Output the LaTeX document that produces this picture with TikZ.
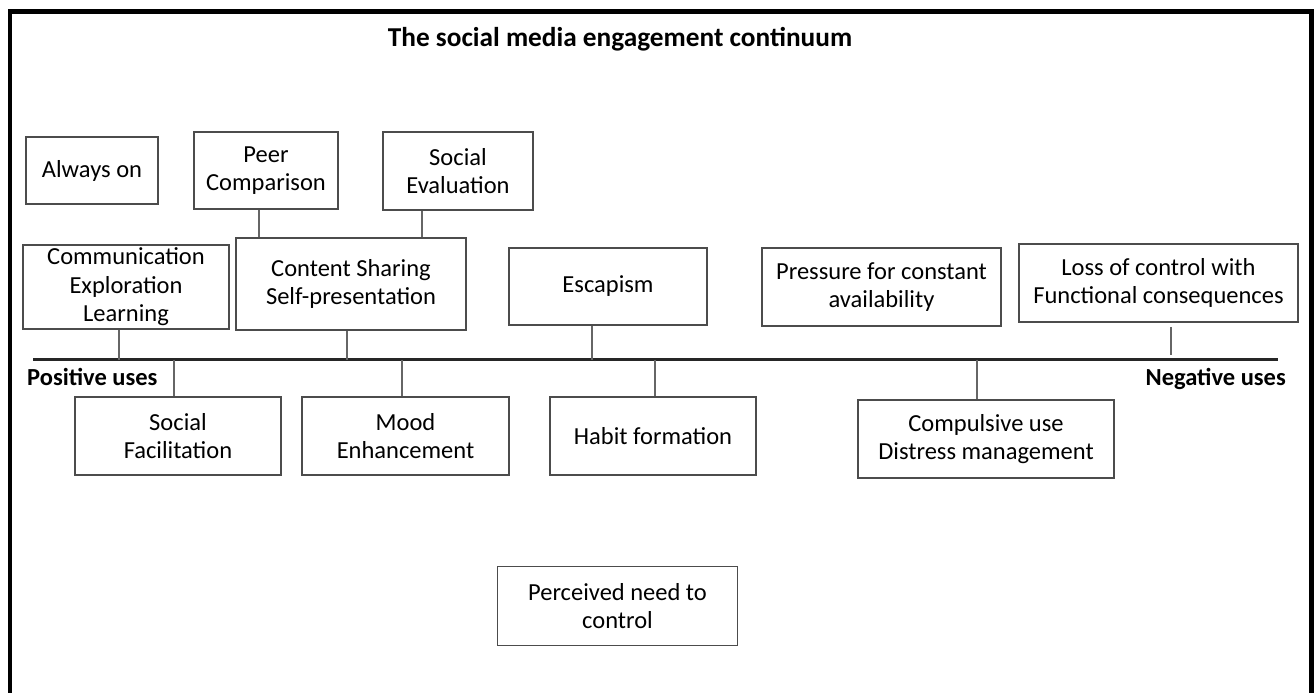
\documentclass[tikz,border=0pt]{standalone}
\usepackage{fontspec}
\setmainfont{Carlito}
\tikzset{
  usebox/.style={draw=black!70, line width=1.8pt, align=center, inner sep=0pt,
    font=\fontsize{24.5}{28.5}\selectfont},
  sz/.style 2 args={minimum width=#1pt, minimum height=#2pt},
  link/.style={draw=black!60, line width=1.5pt},
  scaleline/.style={draw=black!85, line width=2.2pt},
  uselabel/.style={font=\bfseries\fontsize{24.5}{28.5}\selectfont, inner sep=0pt}
}

\begin{document}
\begin{tikzpicture}[x=1pt, y=-1pt]
    \useasboundingbox (0,0) rectangle (1314,693);
    \draw[line width=4.5pt] (10,700) -- (10,11.5) -- (1311.5,11.5) -- (1311.5,700);
    \node[font=\bfseries\fontsize{27.3}{30}\selectfont, anchor=base, inner sep=0pt] (title) at (620,47)
      {The social media engagement continuum};

    % upper row
    \node[usebox, sz={132}{67}] (alwayson)   at (92,170.5)   {Always on};
    \node[usebox, sz={144}{77}] (peer)       at (266,170.5)  {Peer\\Comparison};
    \node[usebox, sz={150}{78}] (evaluation) at (458,171)    {Social\\Evaluation};
    \node[usebox, sz={206}{84}] (comm)       at (126,287)    {Communication\\Exploration\\Learning};
    \node[usebox, sz={230}{92}] (content)    at (351,284)    {Content Sharing\\Self-presentation};
    \node[usebox, sz={198}{77}] (escapism)   at (608,286.5)  {Escapism};
    \node[usebox, sz={239}{78}] (pressure)   at (881.5,287)  {Pressure for constant\\availability};
    \node[usebox, sz={279}{78}] (loss)       at (1158.5,283) {Loss of control with\\Functional consequences};

    % the continuum
    \coordinate (pos) at (33,359.5);
    \coordinate (neg) at (1278,359.5);
    \draw[scaleline] (pos) -- (neg);
    \node[uselabel, anchor=base west] (poslabel) at (27,385) {Positive uses};
    \node[uselabel, anchor=base east] (neglabel) at (1286,385) {Negative uses};

    % lower row
    \node[usebox, sz={206}{78}] (facil)      at (178,436)    {Social\\Facilitation};
    \node[usebox, sz={207}{78}] (mood)       at (405.5,436)  {Mood\\Enhancement};
    \node[usebox, sz={206}{78}] (habit)      at (653,436)    {Habit formation};
    \node[usebox, sz={256}{78}] (compulsive) at (986,439)    {Compulsive use\\Distress management};
    \node[usebox, sz={240}{79}] (perceived)  at (617.5,606)  {Perceived need to\\control};

    \draw[link] ([xshift=-7pt]peer.south) -- ([xshift=-7pt]peer.south |- content.north);
    \draw[link] ([xshift=-36pt]evaluation.south) -- ([xshift=-36pt]evaluation.south |- content.north);
    \draw[link] ([xshift=-7pt]comm.south) -- ([xshift=-7pt]comm.south |- pos);
    \draw[link] ([xshift=-4pt]content.south) -- ([xshift=-4pt]content.south |- pos);
    \draw[link] ([xshift=-16pt]escapism.south) -- ([xshift=-16pt]escapism.south |- pos);
    \draw[link, shorten <=4pt, shorten >=5pt] ([xshift=12.5pt]loss.south) -- ([xshift=12.5pt]loss.south |- pos);
    \draw[link] ([xshift=-4pt]facil.north |- pos) -- ([xshift=-4pt]facil.north);
    \draw[link] ([xshift=-3.5pt]mood.north |- pos) -- ([xshift=-3.5pt]mood.north);
    \draw[link] ([xshift=2pt]habit.north |- pos) -- ([xshift=2pt]habit.north);
    \draw[link] ([xshift=-9pt]compulsive.north |- pos) -- ([xshift=-9pt]compulsive.north);
\end{tikzpicture}
\end{document}
